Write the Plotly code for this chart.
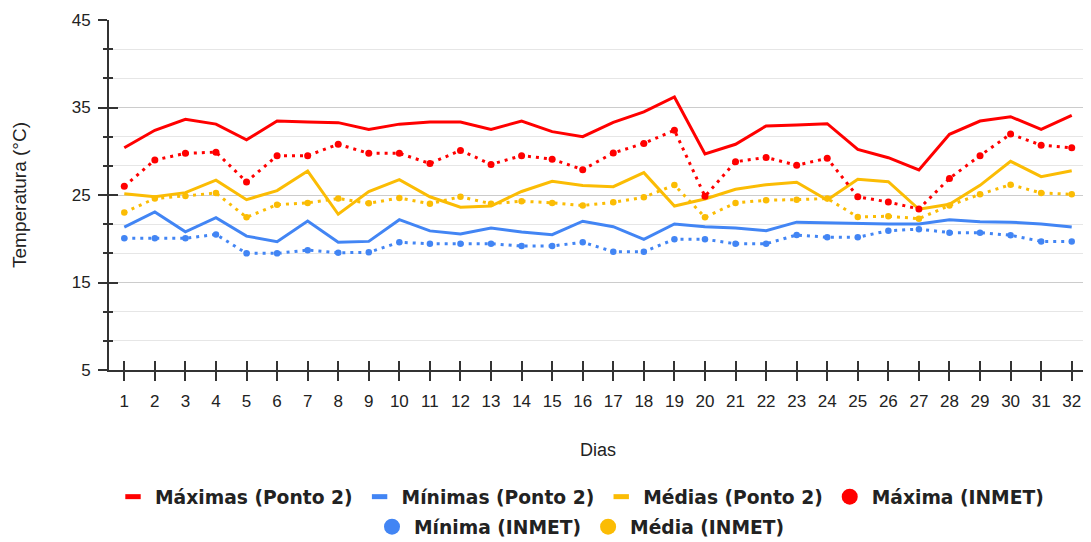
import plotly.graph_objects as go

dias = list(range(1, 33))

maximas = [30.4, 32.4, 33.65, 33.1, 31.3, 33.45, 33.35, 33.27, 32.5, 33.1, 33.34, 33.34, 32.5, 33.45, 32.24, 31.67,
           33.3, 34.5, 36.2, 29.7, 30.8, 32.9, 33.0, 33.15, 30.2, 29.26, 27.86, 31.93, 33.45, 33.95, 32.5, 34.1]
minimas = [21.34, 23.06, 20.8, 22.4, 20.3, 19.67, 22.03, 19.6, 19.7, 22.18, 20.9, 20.54, 21.23, 20.77, 20.47, 22.0,
           21.38, 19.94, 21.69, 21.38, 21.23, 20.92, 21.9, 21.84, 21.72, 21.69, 21.69, 22.18, 21.95, 21.9, 21.69, 21.34]
medias = [25.15, 24.8, 25.27, 26.7, 24.47, 25.5, 27.74, 22.8, 25.4, 26.75, 24.8, 23.6, 23.74, 25.4, 26.56, 26.1,
          25.95, 27.55, 23.74, 24.54, 25.65, 26.18, 26.45, 24.43, 26.8, 26.52, 23.37, 23.94, 26.1, 28.85, 27.1, 27.78]
max_inmet = [26.0, 29.0, 29.76, 29.9, 26.5, 29.5, 29.5, 30.8, 29.76, 29.76, 28.6, 30.1, 28.5, 29.5, 29.1, 27.9,
             29.8, 30.9, 32.4, 24.85, 28.8, 29.3, 28.4, 29.2, 24.8, 24.2, 23.4, 26.9, 29.5, 31.97, 30.7, 30.4]
min_inmet = [20.05, 20.05, 20.05, 20.5, 18.33, 18.33, 18.7, 18.4, 18.45, 19.6, 19.43, 19.43, 19.43, 19.17, 19.17, 19.6,
             18.52, 18.52, 19.94, 19.94, 19.43, 19.43, 20.43, 20.17, 20.17, 20.92, 21.1, 20.7, 20.7, 20.4, 19.7, 19.7]
med_inmet = [23.0, 24.6, 24.9, 25.23, 22.45, 23.9, 24.1, 24.6, 24.05, 24.66, 24.0, 24.8, 24.0, 24.3, 24.1, 23.8,
             24.16, 24.74, 26.14, 22.45, 24.1, 24.4, 24.47, 24.6, 22.49, 22.57, 22.3, 23.8, 25.08, 26.18, 25.23, 25.08]

y_major = [5, 15, 25, 35, 45]
y_labels = ["5", "15", "25", "35", "45"]

RED = "#ff0000"
BLUE = "#4285f4"
YEL = "#fbbc04"
FONT = "Liberation Sans, Arial, sans-serif"
LFONT = "DejaVu Sans, sans-serif"

y_minor = []
for a, b in zip(y_major[:-1], y_major[1:]):
    step = (b - a) / 3
    y_minor += [a + step, a + 2 * step]

fig = go.Figure()

solid = [("Máximas (Ponto 2)", maximas, RED), ("Mínimas (Ponto 2)", minimas, BLUE), ("Médias (Ponto 2)", medias, YEL)]
dotted = [("Máxima (INMET)", max_inmet, RED, 7), ("Mínima (INMET)", min_inmet, BLUE, 6.5), ("Média (INMET)", med_inmet, YEL, 6.5)]

for name, vals, col in solid:
    fig.add_trace(go.Scatter(x=dias, y=vals, mode="lines", name=name, showlegend=False,
                             line=dict(color=col, width=3)))
for name, vals, col, ms in dotted:
    fig.add_trace(go.Scatter(x=dias, y=vals, mode="lines+markers", name=name, showlegend=False,
                             line=dict(color=col, width=3, dash="3px,5px"),
                             marker=dict(color=col, size=ms)))

# legend entries
for name, vals, col in solid:
    fig.add_trace(go.Scatter(x=[None], y=[None], mode="markers", name=name, legend="legend",
                             marker=dict(symbol="line-ew", size=11, line=dict(color=col, width=6))))
for i, (name, vals, col, ms) in enumerate(dotted):
    fig.add_trace(go.Scatter(x=[None], y=[None], mode="markers", name=name,
                             legend="legend" if i == 0 else "legend2",
                             marker=dict(symbol="circle", size=16, color=col)))

# helper trace for inner tick overlay axes
fig.add_trace(go.Scatter(x=[None], y=[None], xaxis="x2", yaxis="y2", showlegend=False, hoverinfo="skip"))

xr = [0.5, 32.5]
yr = [5, 45]

# page body has an 8px margin: figure is sized/offset to compensate
W, H = 1083, 534

fig.update_layout(
    width=W, height=H,
    margin=dict(l=101, r=4, t=12, b=172, autoexpand=False),
    plot_bgcolor="white", paper_bgcolor="white",
    font=dict(family=FONT, color="#222222", size=17),
    xaxis=dict(range=xr, tickmode="array", tickvals=dias, ticktext=[str(d) for d in dias],
               showgrid=False, zeroline=False, showline=True, linecolor="#333333", linewidth=2,
               ticks="outside", ticklen=9, tickwidth=2, tickcolor="#333333", automargin=False,
               tickfont=dict(size=17, color="#222222"), ticklabelstandoff=6,
               title=dict(text="Dias", font=dict(size=18, color="#222222"), standoff=33)),
    yaxis=dict(range=yr, tickmode="array", tickvals=y_major, ticktext=y_labels,
               showgrid=True, gridcolor="#cccccc", gridwidth=1, zeroline=False,
               showline=True, linecolor="#333333", linewidth=2, automargin=False,
               ticks="outside", ticklen=9, tickwidth=2, tickcolor="#333333",
               tickfont=dict(size=17, color="#222222"), ticklabelstandoff=4,
               minor=dict(tickmode="array", tickvals=y_minor, ticks="outside", ticklen=4, tickwidth=2,
                          tickcolor="#333333", showgrid=True, gridcolor="#e6e6e6", gridwidth=1),
               title=dict(text="Temperatura (°C)", font=dict(size=19, color="#222222"), standoff=40)),
    xaxis2=dict(range=xr, overlaying="x", anchor="y", side="bottom", tickmode="array", tickvals=dias,
                showticklabels=False, showgrid=False, zeroline=False, showline=False, automargin=False,
                ticks="inside", ticklen=9, tickwidth=2, tickcolor="#333333"),
    yaxis2=dict(range=yr, overlaying="y", anchor="x", side="left", tickmode="array", tickvals=y_major,
                showticklabels=False, showgrid=False, zeroline=False, showline=False, automargin=False,
                ticks="inside", ticklen=9, tickwidth=2, tickcolor="#333333",
                minor=dict(tickmode="array", tickvals=y_minor, ticks="inside", ticklen=4, tickwidth=2,
                           tickcolor="#333333", showgrid=False)),
    legend=dict(orientation="h", xref="container", yref="container", x=572 / W, y=1 - 489 / H,
                xanchor="center", yanchor="middle", itemsizing="trace", itemwidth=34,
                font=dict(size=18.7, family=LFONT, color="#222222", weight="bold"), bgcolor="rgba(0,0,0,0)"),
    legend2=dict(orientation="h", xref="container", yref="container", x=572 / W, y=1 - 519 / H,
                 xanchor="center", yanchor="middle", itemsizing="trace", itemwidth=34,
                 font=dict(size=18.7, family=LFONT, color="#222222", weight="bold"), bgcolor="rgba(0,0,0,0)"),
)

fig.write_html("out.html")
